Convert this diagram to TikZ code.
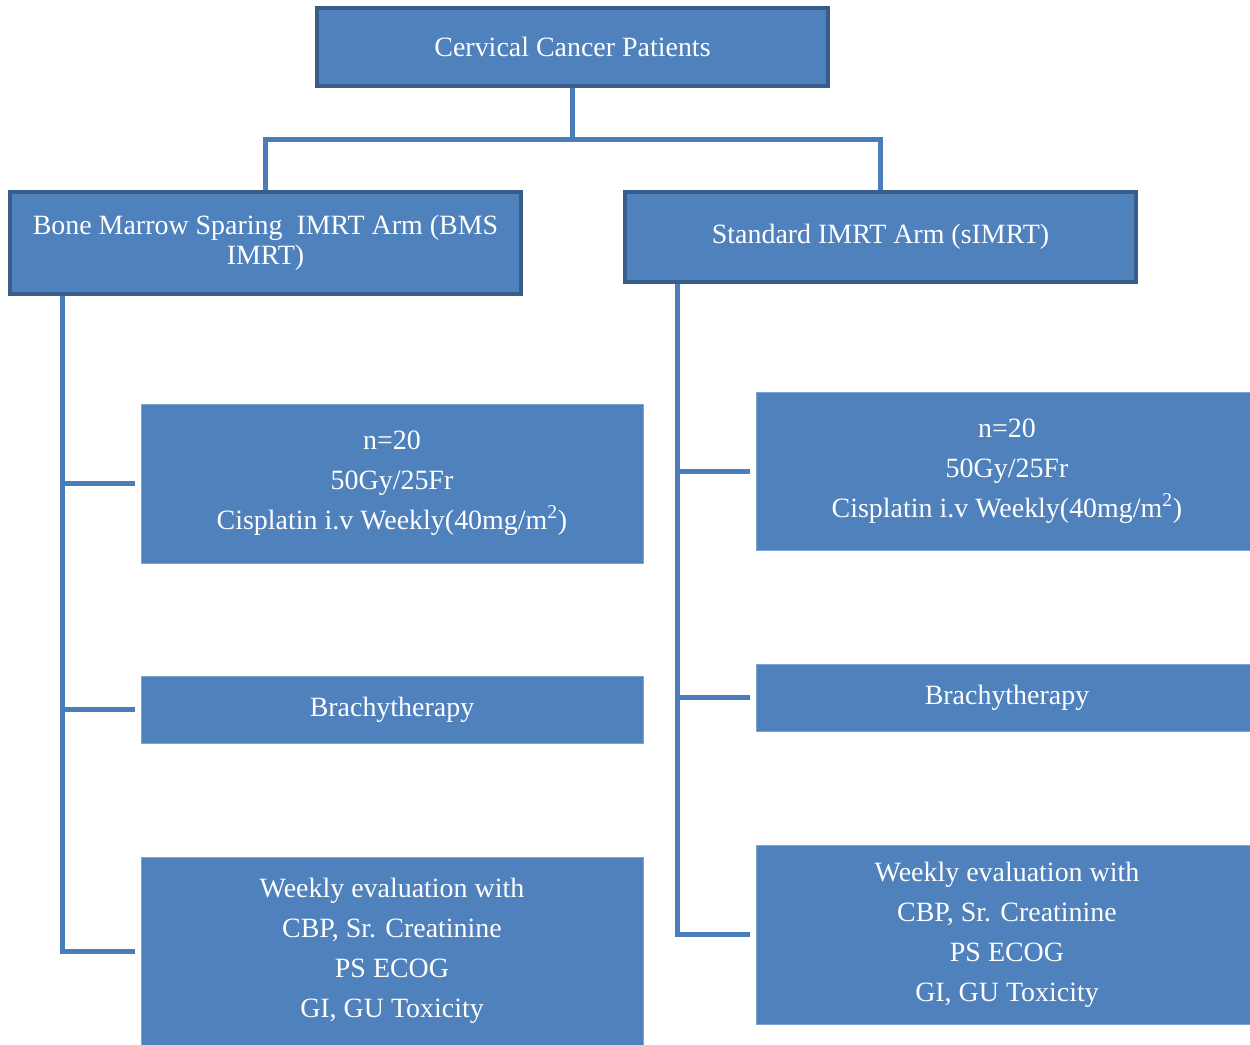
\documentclass[tikz,border=0pt]{standalone}
\usepackage{fontspec}
\setmainfont{Liberation Serif}
\definecolor{boxblue}{HTML}{4F81BD}
\definecolor{edgeblue}{HTML}{385D8A}
\definecolor{lineblue}{HTML}{4A7EBB}
\definecolor{rimblue}{HTML}{7FA3D1}
\tikzset{
  armbox/.style={draw=edgeblue, line width=0.08cm, fill=boxblue, text=white, rectangle,
    minimum width=10.22cm, align=center, inner sep=0pt, font=\fontsize{15.9}{16.8}\selectfont},
  stepbox/.style={draw=rimblue, line width=0.4pt, fill=boxblue, text=white, rectangle,
    minimum width=10.04cm, align=center, inner sep=0pt, font=\fontsize{15.9}{22.7}\selectfont},
  link/.style={draw=lineblue, line width=0.1cm},
  branch/.style={link, shorten >=0.12cm}
}
\begin{document}
\begin{tikzpicture}[x=0.02cm, y=-0.02cm]
    \clip (0,0) rectangle (1250,1044);

    \node[armbox, minimum height=1.56cm] (top) at (572.5,47) {Cervical Cancer Patients};
    \node[armbox, minimum height=2.04cm] (bms) at (265.5,243) {Bone Marrow Sparing\ \ IMRT Arm (BMS\\IMRT)};
    \node[armbox, minimum height=1.8cm] (std) at (880.5,237) {Standard IMRT Arm (sIMRT)};

    \node[stepbox, minimum height=3.18cm] (l1) at (392,483.5) {n=20\\50Gy/25Fr\\Cisplatin i.v Weekly(40mg/m\textsuperscript{2})};
    \node[stepbox, minimum height=1.34cm] (l2) at (392,709.5) {Brachytherapy};
    \node[stepbox, minimum height=3.76cm] (l3) at (392,951) {Weekly evaluation with\\CBP, Sr. Creatinine\\PS ECOG\\GI, GU Toxicity};

    \node[stepbox, minimum height=3.16cm] (r1) at (1007,471) {n=20\\50Gy/25Fr\\Cisplatin i.v Weekly(40mg/m\textsuperscript{2})};
    \node[stepbox, minimum height=1.34cm] (r2) at (1007,697.5) {Brachytherapy};
    \node[stepbox, minimum height=3.58cm] (r3) at (1007,934.5) {Weekly evaluation with\\CBP, Sr. Creatinine\\PS ECOG\\GI, GU Toxicity};

    \coordinate (lx) at (62,0);
    \coordinate (rx) at (677,0);

    \draw[link] (top.south) -- ++(0,52) coordinate (split);
    \draw[link] (bms.north) |- (split) -| (std.north);

    \draw[branch] (bms.south -| lx) |- (l3.west);
    \draw[branch] (l1.west -| lx) -- (l1.west);
    \draw[branch] (l2.west -| lx) -- (l2.west);

    \draw[branch] (std.south -| rx) |- (r3.west);
    \draw[branch] (r1.west -| rx) -- (r1.west);
    \draw[branch] (r2.west -| rx) -- (r2.west);
\end{tikzpicture}
\end{document}
